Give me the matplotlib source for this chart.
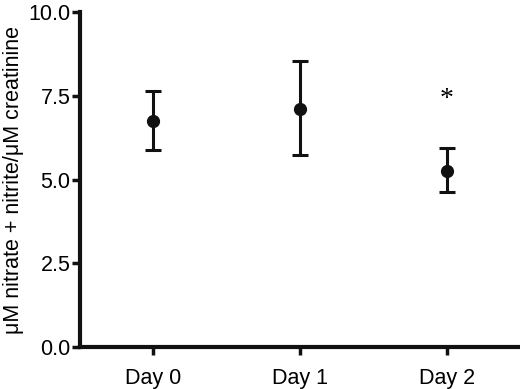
import numpy as np
from matplotlib import pyplot as plt

plt.rcParams['font.family'] = ['Liberation Sans', 'DejaVu Sans']

days = ["Day 0", "Day 1", "Day 2"]
means = [6.75, 7.10, 5.26]
upper = [7.63, 8.53, 5.93]
lower = [5.88, 5.73, 4.64]
star_day = 2
star_y = 7.4

x = np.arange(len(days))
yerr = [np.array(means) - np.array(lower), np.array(upper) - np.array(means)]

fig = plt.figure(figsize=(5.2, 3.89), dpi=100)
ax = fig.add_axes([0.154, 0.108, 0.846, 0.861])

ax.errorbar(x, means, yerr=yerr, fmt='o', color='#111111', ecolor='#111111',
            markersize=8.5, elinewidth=2.2, capsize=5.5, capthick=2.2)
ax.text(star_day, star_y, "*", ha='center', va='center', fontsize=20,
        family=['Liberation Serif', 'DejaVu Serif'])

ax.set_xlim(-0.5, 2.5)
ax.set_ylim(0, 10)
ax.set_xticks(x)
ax.set_xticklabels(days, fontsize=15.5)
ax.set_yticks([0, 2.5, 5.0, 7.5, 10.0])
ax.set_yticklabels(["0.0", "2.5", "5.0", "7.5", "10.0"], fontsize=15.5)
ax.set_ylabel("\u03bcM nitrate + nitrite/\u03bcM creatinine", fontsize=15.5, labelpad=3)

for s in ['top', 'right']:
    ax.spines[s].set_visible(False)
for s in ['left', 'bottom']:
    ax.spines[s].set_linewidth(3)
    ax.spines[s].set_color('#111111')
ax.tick_params(axis='y', length=6, width=2.5, pad=1, color='#111111')
ax.tick_params(axis='x', length=6, width=2.5, pad=9, color='#111111')

fig.savefig("out.png", dpi=100)
